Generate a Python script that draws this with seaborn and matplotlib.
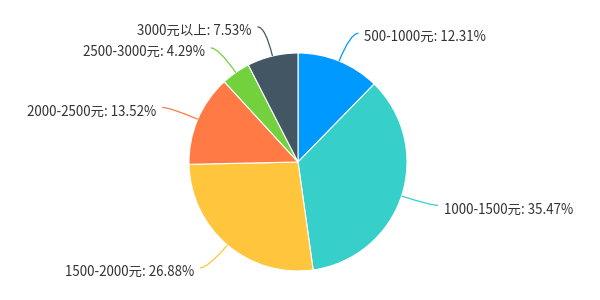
import numpy as np
import matplotlib
matplotlib.use("Agg")
import matplotlib.pyplot as plt
import seaborn as sns
from matplotlib.path import Path
from matplotlib.patches import PathPatch

sns.set_theme(style="white")
plt.rcParams['font.family'] = ['Noto Sans CJK SC', 'DejaVu Sans']

categories = ["500-1000元", "1000-1500元", "1500-2000元", "2000-2500元", "2500-3000元", "3000元以上"]
values = [12.31, 35.47, 26.88, 13.52, 4.29, 7.53]
colors = ["#0099FF", "#36CFC9", "#FFC53D", "#FF7A45", "#73D13D", "#435663"]

W, H = 600, 300
fig = plt.figure(figsize=(6, 3), dpi=100)
ax = fig.add_axes([0, 0, 1, 1])
ax.set_xlim(0, W)
ax.set_ylim(0, H)
ax.set_aspect("equal")
ax.axis("off")

cx, cy, r = 298, 300 - 162, 109
wedges, _ = ax.pie(values, colors=colors, startangle=90, counterclock=False,
                   center=(cx, cy), radius=r,
                   wedgeprops=dict(edgecolor="white", linewidth=0.8))
ax.set_xlim(0, W)
ax.set_ylim(0, H)

L1, L2, gap, drop = 30, 8, 6, 4
total = sum(values)
cum = 0.0
for lab, v, col in zip(categories, values, colors):
    mid = (cum + v / 2) / total * 2 * np.pi  # clockwise from top
    cum += v
    dx, dy = np.sin(mid), np.cos(mid)
    p0 = (cx + r * dx, cy + r * dy)
    p1 = (cx + (r + L1) * dx, cy + (r + L1) * dy)
    side = 1 if dx >= 0 else -1
    p2 = (p1[0] + side * L2, p1[1])
    path = Path([p0, p1, p2], [Path.MOVETO, Path.CURVE3, Path.CURVE3])
    ax.add_patch(PathPatch(path, facecolor="none", edgecolor=col, linewidth=0.9))
    ax.text(p2[0] + side * gap, p2[1] - drop, f"{lab}: {v:.2f}%",
            ha="left" if side > 0 else "right", va="center",
            fontsize=9.6, color="#333333")

fig.savefig("out.png", dpi=100)
